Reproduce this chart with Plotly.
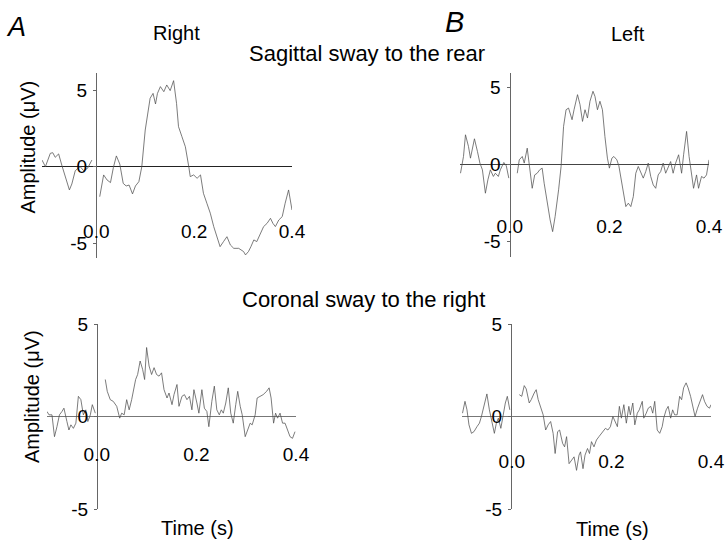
import plotly.graph_objects as go

# ---------------- data (time in s, amplitude in microvolts) ----------------
# Sagittal sway to the rear, Right (A, top)
t_sag_r_pre = [-0.111,-0.104,-0.094,-0.089,-0.084,-0.077,-0.070,-0.063,-0.055,-0.050,-0.043,-0.033,-0.026,-0.018,-0.009]
v_sag_r_pre = [0.43,0.00,0.87,0.91,0.61,0.83,0.04,-0.76,-1.52,-1.13,-0.26,0.00,-0.26,-0.11,0.43]
t_sag_r_post = [0.007,0.015,0.022,0.029,0.035,0.041,0.048,0.055,0.061,0.067,0.074,0.080,0.087,0.093,
                0.100,0.107,0.110,0.116,0.121,0.125,0.131,0.138,0.144,0.151,0.158,
                0.164,0.168,0.175,0.182,0.189,0.192,0.199,0.206,0.213,0.219,
                0.226,0.233,0.240,0.247,0.253,0.260,0.267,0.274,0.281,0.291,
                0.301,0.305,0.311,0.316,0.322,0.328,0.335,0.342,0.349,0.356,
                0.361,0.366,0.373,0.380,0.386,0.393,0.400]
v_sag_r_post = [-1.96,-0.54,-0.87,-1.04,-0.04,0.70,0.17,-1.09,-1.26,-1.20,-1.78,-1.26,-0.98,0.00,
                2.39,3.70,4.46,4.78,4.09,4.78,5.22,4.89,5.33,4.96,5.61,
                4.13,2.61,1.96,1.30,0.00,-0.65,-0.54,-0.76,-0.54,-1.74,
                -2.39,-3.04,-3.91,-4.57,-5.22,-4.89,-4.57,-5.11,-5.33,-5.33,
                -5.54,-5.76,-5.54,-5.22,-4.78,-4.89,-4.35,-3.91,-3.70,-3.37,
                -3.70,-3.91,-3.48,-3.26,-2.39,-1.52,-2.83]

# Sagittal sway to the rear, Left (B, top)
t_sag_l_pre = [-0.099,-0.093,-0.089,-0.083,-0.079,-0.075,-0.071,-0.065,-0.060,-0.055,-0.049,-0.044,-0.039,-0.033,-0.029,-0.023,-0.019,-0.012,-0.007,-0.002]
v_sag_l_pre = [-0.59,0.50,1.91,1.15,0.39,1.04,1.65,0.83,0.07,-0.37,-1.89,-1.02,-0.37,-0.80,-0.59,-0.80,-0.37,0.11,-0.11,-0.91]
t_sag_l_post = [0.015,0.019,0.025,0.029,0.035,0.040,0.045,0.050,0.055,0.060,
                0.065,0.069,0.075,0.081,0.086,0.091,0.098,0.103,0.108,0.113,
                0.118,0.125,0.129,0.136,0.141,0.146,0.151,0.156,0.161,0.167,
                0.171,0.176,0.181,0.186,0.191,0.196,0.200,0.205,0.209,0.215,
                0.219,0.223,0.228,0.233,0.238,0.243,0.248,0.253,0.258,0.263,
                0.268,0.273,0.278,0.283,0.288,0.293,0.298,0.303,0.308,0.313,
                0.318,0.323,0.328,0.333,0.339,0.345,0.349,0.355,0.360,0.365,
                0.369,0.375,0.379,0.385,0.390,0.395,0.400]
v_sag_l_post = [-0.59,0.28,0.50,0.07,1.04,-0.37,-1.57,-0.70,-0.59,-0.37,
                -0.26,-1.24,-2.54,-3.63,-4.39,-3.41,-1.67,-0.15,2.46,3.54,
                3.65,2.89,3.54,4.52,3.87,2.78,3.54,3.00,4.09,4.74,
                4.41,3.54,4.09,3.54,1.80,0.39,-0.26,0.39,0.50,0.28,
                -0.11,-0.80,-1.89,-2.76,-2.54,-2.76,-2.11,-0.59,-0.15,-0.59,
                -0.91,-0.48,0.07,-0.80,-1.35,-1.57,-0.70,-0.48,0.07,-0.59,
                -0.15,0.17,-0.59,0.07,0.61,-0.59,0.61,2.13,0.50,-0.80,
                -1.57,-0.70,-1.57,-0.80,-0.91,-0.70,0.28]

# Coronal sway to the right, Right (A, bottom)
t_cor_r_pre = [-0.100,-0.096,-0.090,-0.085,-0.080,-0.075,-0.070,-0.066,-0.060,-0.056,-0.052,-0.047,-0.042,-0.037,-0.032,-0.027,-0.022,-0.018,-0.013,-0.009,-0.003]
v_cor_r_pre = [0.27,0.09,0.09,-1.09,-0.55,0.09,0.27,0.45,-0.27,-0.73,-0.45,-0.64,-0.36,1.09,0.91,0.09,0.36,-0.27,0.09,0.64,0.18]
t_cor_r_post = [0.017,0.021,0.027,0.033,0.040,0.046,0.050,0.055,0.060,0.065,
                0.070,0.074,0.078,0.082,0.087,0.092,0.096,0.100,0.105,0.110,
                0.115,0.120,0.125,0.130,0.135,0.141,0.145,0.151,0.155,0.161,
                0.165,0.171,0.176,0.181,0.186,0.191,0.195,0.201,0.205,0.211,
                0.216,0.221,0.225,0.231,0.236,0.241,0.246,0.250,0.254,0.259,
                0.264,0.269,0.274,0.279,0.283,0.288,0.292,0.298,0.302,0.308,
                0.312,0.318,0.322,0.328,0.334,0.341,0.346,0.350,0.355,0.359,
                0.363,0.368,0.373,0.378,0.383,0.388,0.393,0.398]
v_cor_r_post = [2.00,1.36,0.91,0.82,0.55,-0.09,0.18,0.09,0.91,0.36,
                0.91,1.45,2.00,2.27,3.00,2.55,2.00,3.73,2.73,2.27,
                2.64,2.27,2.18,2.36,1.45,1.00,1.27,0.64,1.18,1.73,
                0.55,1.09,1.18,0.91,1.09,0.36,1.45,0.73,0.18,1.45,
                0.45,0.27,-0.55,0.82,1.64,0.36,0.09,0.36,0.18,0.73,
                1.55,0.18,-0.36,0.64,1.36,0.55,0.09,-1.09,-0.82,-0.36,
                -0.45,0.09,1.00,1.09,1.18,1.36,1.55,1.00,-0.36,0.18,
                -0.09,0.18,-0.36,-0.36,-0.73,-1.09,-1.18,-0.82]

# Coronal sway to the right, Left (B, bottom)
t_cor_l_pre = [-0.099,-0.094,-0.090,-0.086,-0.081,-0.076,-0.070,-0.065,-0.061,-0.055,-0.050,-0.045,-0.041,-0.035,-0.031,-0.027,-0.022,-0.017,-0.013,-0.009,-0.004]
v_cor_l_pre = [0.18,0.82,0.36,-0.45,-0.91,-0.82,-0.55,-0.36,0.00,0.73,1.22,0.36,-0.18,-0.91,-0.36,-0.09,-0.64,0.18,0.73,1.09,0.36]
t_cor_l_post = [0.015,0.020,0.025,0.029,0.035,0.039,0.045,0.049,0.053,0.058,
                0.063,0.068,0.073,0.078,0.083,0.087,0.092,0.096,0.102,0.106,
                0.110,0.115,0.120,0.125,0.130,0.135,0.138,0.143,0.147,0.152,
                0.156,0.160,0.165,0.170,0.175,0.178,0.184,0.188,0.193,0.198,
                0.203,0.208,0.212,0.216,0.220,0.225,0.230,0.235,0.238,0.243,
                0.247,0.252,0.256,0.262,0.265,0.270,0.274,0.279,0.283,0.287,
                0.292,0.297,0.302,0.305,0.310,0.314,0.319,0.323,0.327,0.332,
                0.337,0.341,0.345,0.350,0.354,0.359,0.363,0.368,0.373,0.379,
                0.383,0.387,0.392,0.397,0.400]
v_cor_l_post = [1.18,1.09,1.67,1.49,0.73,0.91,1.27,1.45,0.91,0.55,
                0.09,-0.73,-0.45,-0.27,-0.91,-2.00,-0.82,-0.73,-1.45,-1.64,
                -1.09,-2.55,-2.36,-2.18,-2.91,-2.09,-1.91,-2.82,-2.09,-1.73,
                -2.00,-1.36,-1.64,-1.27,-1.09,-1.00,-0.82,-0.64,-0.73,-0.55,
                0.00,-0.27,-0.55,0.55,-0.09,0.64,-0.36,0.55,0.09,0.73,
                -0.45,0.18,0.36,0.82,-0.09,0.18,0.45,0.55,0.18,0.82,
                -0.73,-0.91,-0.55,-0.09,0.36,0.55,-0.09,0.36,0.09,0.09,
                1.09,0.91,1.55,1.82,1.55,1.09,0.55,0.00,0.45,0.91,
                1.18,0.82,0.55,0.45,0.64]

x_tickvals = [0.0, 0.2, 0.4]
x_ticktext = ["0.0", "0.2", "0.4"]
y_tickvals = [-5, 0, 5]
y_ticktext = ["-5", "0", "5"]

# ---------------- layout helpers ----------------
W, H = 725, 542
FONT = "Liberation Sans, Arial, Helvetica, sans-serif"
TICK_SIZE = 19

def px_x(p):
    return p / W

def px_y(p):
    return 1 - p / H

panels = [
    dict(tp=t_sag_r_pre, vp=v_sag_r_pre, tq=t_sag_r_post, vq=v_sag_r_post,
         xd=(42, 292), yd=(73, 258), xr=[-0.111, 0.4], yr=[-5.96, 6.11], yx=96, xl=218, zc="#222222"),
    dict(tp=t_sag_l_pre, vp=v_sag_l_pre, tq=t_sag_l_post, vq=v_sag_l_post,
         xd=(460, 709), yd=(73, 257), xr=[-0.1, 0.4], yr=[-6.04, 5.93], yx=509.5, xl=213, zc="#444444"),
    dict(tp=t_cor_r_pre, vp=v_cor_r_pre, tq=t_cor_r_post, vq=v_cor_r_post,
         xd=(47, 296), yd=(324, 509), xr=[-0.1, 0.4], yr=[-5, 5], yx=97, xl=441, zc="#777777"),
    dict(tp=t_cor_l_pre, vp=v_cor_l_pre, tq=t_cor_l_post, vq=v_cor_l_post,
         xd=(462, 711), yd=(324, 509), xr=[-0.1, 0.4], yr=[-5, 5], yx=511, xl=448, zc="#777777"),
]

fig = go.Figure()
layout = dict(
    template="none",
    width=W, height=H, margin=dict(l=0, r=0, t=0, b=0, pad=0, autoexpand=False),
    paper_bgcolor="white", plot_bgcolor="white", showlegend=False,
    font=dict(family=FONT, color="black"),
)

for i, p in enumerate(panels, start=1):
    xa = "x" if i == 1 else f"x{i}"
    ya = "y" if i == 1 else f"y{i}"
    fig.add_trace(go.Scatter(
        x=p["tp"] + [None] + p["tq"], y=p["vp"] + [None] + p["vq"],
        mode="lines", line=dict(color="#505050", width=0.75),
        connectgaps=False, xaxis=xa, yaxis=ya, hoverinfo="skip"))
    layout[f"xaxis{'' if i == 1 else i}"] = dict(
        domain=[px_x(p["xd"][0]), px_x(p["xd"][1])], range=p["xr"],
        anchor="free", position=px_y(p["xl"]), automargin=False,
        showline=False, showgrid=False, zeroline=False, ticks="",
        tickvals=x_tickvals, ticktext=x_ticktext,
        tickfont=dict(family=FONT, size=TICK_SIZE, color="black"), fixedrange=True)
    layout[f"yaxis{'' if i == 1 else i}"] = dict(
        domain=[px_y(p["yd"][1]), px_y(p["yd"][0])], range=p["yr"],
        anchor="free", position=px_x(p["yx"]), automargin=False,
        showline=True, linecolor="#666666", linewidth=1,
        showgrid=False, zeroline=True, zerolinecolor=p["zc"], zerolinewidth=1,
        ticks="outside", ticklen=3, tickcolor="#666666", ticklabelstandoff=2,
        tickvals=y_tickvals, ticktext=y_ticktext,
        tickfont=dict(family=FONT, size=TICK_SIZE, color="black"), fixedrange=True)

def ann(text, x, y, size, italic=False, angle=0):
    return dict(text=f"<i>{text}</i>" if italic else text,
                x=px_x(x), y=px_y(y), xref="paper", yref="paper",
                xanchor="center", yanchor="middle", showarrow=False,
                textangle=angle, font=dict(family=FONT, size=size, color="black"))

layout["annotations"] = [
    ann("A", 16, 27, 27, italic=True),
    ann("Right", 176, 33, 20),
    ann("B", 454, 22, 29, italic=True),
    ann("Left", 628, 34, 20),
    ann("Sagittal sway to the rear", 367, 53, 22),
    ann("Coronal sway to the right", 363, 299, 22),
    ann("Amplitude (μV)", 27.5, 147, 20, angle=-90),
    ann("Amplitude (μV)", 32, 397, 20, angle=-90),
    ann("Time (s)", 197.5, 528, 20),
    ann("Time (s)", 612, 529, 20),
]

fig.update_layout(**layout)
fig.write_html(
    "out.html",
    config={"displayModeBar": False, "staticPlot": True},
    post_script="document.body.style.margin='0';document.body.style.padding='0';",
)
